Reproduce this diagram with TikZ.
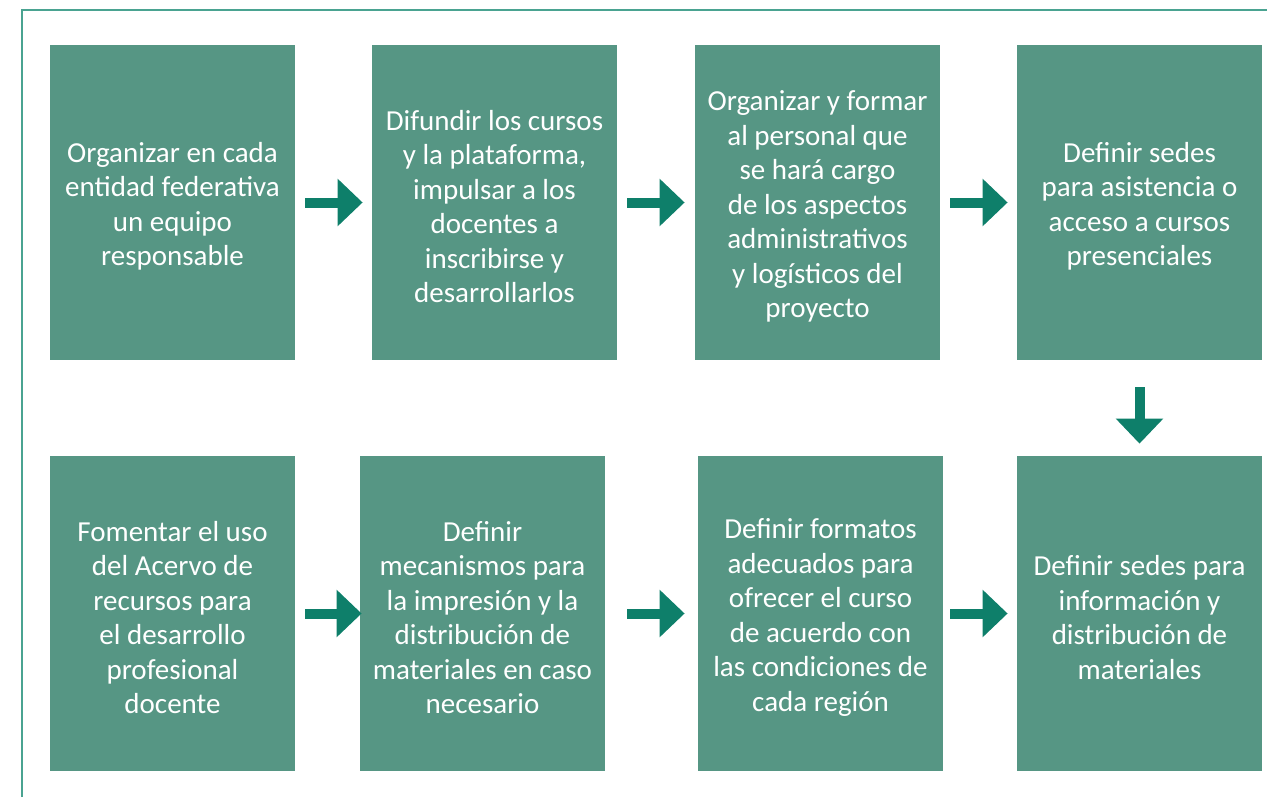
\documentclass[tikz,border=0pt]{standalone}
\usepackage{fontspec}
\setmainfont{Carlito}
\usetikzlibrary{arrows.meta}
\definecolor{cajaverde}{HTML}{569684}
\definecolor{flechaverde}{HTML}{0E7F6A}
\definecolor{marcoverde}{HTML}{4AA391}
\newcommand{\tope}{\rule{0pt}{14pt}}
\tikzset{
  caja/.style={rectangle,fill=cajaverde,text=white,minimum width=122.5pt,
    minimum height=157.5pt,inner sep=0pt,align=center,
    font=\fontsize{14.5pt}{17.25pt}\selectfont},
  flecha/.style={draw=flechaverde,line width=5pt,
    -{Triangle[length=12.5pt,width=23pt]}}
}
\begin{document}
\begin{tikzpicture}[x=0.5pt,y=-0.5pt]
                \useasboundingbox (0,0) rectangle (1267,797);
                % marco
                \draw[marcoverde,line width=1pt] (22,797) -- (22,10.5) -- (1267,10.5);
                % primera fila
                \node[caja] (c1) at (172.5,202.5) {\tope Organizar en cada\\entidad federativa\\un equipo\\responsable};
                \node[caja] (c2) at (494.5,202.5) {\tope Difundir los cursos\\y la plataforma,\\impulsar a los\\docentes a\\inscribirse y\\desarrollarlos};
                \node[caja] (c3) at (817.5,202.5) {\tope Organizar y formar\\al personal que\\se hará cargo\\de los aspectos\\administrativos\\y logísticos del\\proyecto};
                \node[caja] (c4) at (1139.5,202.5) {\tope Definir sedes\\para asistencia o\\acceso a cursos\\presenciales};
                % segunda fila
                \node[caja] (c5) at (172.5,613.5) {\tope Fomentar el uso\\del Acervo de\\recursos para\\el desarrollo\\profesional\\docente};
                \node[caja] (c6) at (482.5,613.5) {\tope Definir\\mecanismos para\\la impresión y la\\distribución de\\materiales en caso\\necesario};
                \node[caja] (c7) at (820.5,613.5) {\tope Definir formatos\\adecuados para\\ofrecer el curso\\de acuerdo con\\las condiciones de\\cada región};
                \node[caja] (c8) at (1139.5,613.5) {\tope Definir sedes para\\información y\\distribución de\\materiales};
                % flechas
                \draw[flecha,shorten <=5pt,shorten >=4.5pt] (c1) -- (c2);
                \draw[flecha,shorten <=5pt,shorten >=5pt] (c2) -- (c3);
                \draw[flecha,shorten <=5pt,shorten >=4.5pt] (c3) -- (c4);
                \draw[flecha,shorten <=13.5pt,shorten >=6pt] (c4) -- (c8);
                \draw[flecha,shorten <=5pt,shorten >=-1pt] (c5) -- (c6);
                \draw[flecha,shorten <=11pt,shorten >=6.5pt] (c6) -- (c7);
                \draw[flecha,shorten <=3.5pt,shorten >=4.5pt] (c7) -- (c8);
\end{tikzpicture}
\end{document}
